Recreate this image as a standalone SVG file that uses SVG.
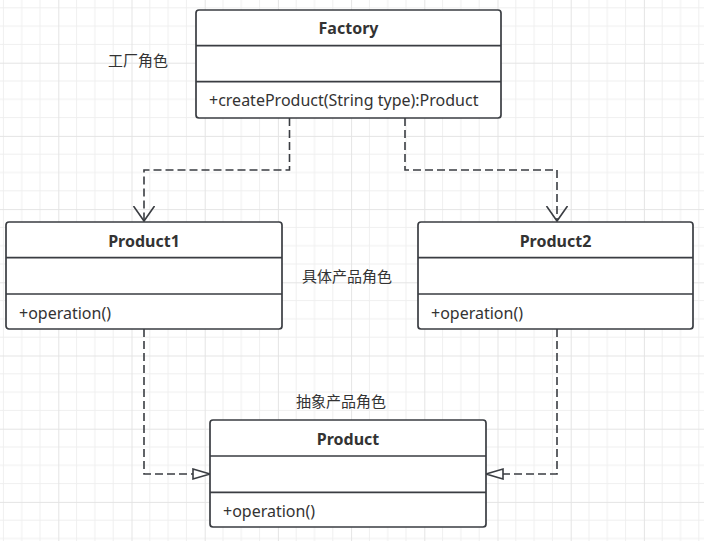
<svg xmlns="http://www.w3.org/2000/svg" width="704" height="541" viewBox="0 0 704 541">
<defs>
<pattern id="grid" patternUnits="userSpaceOnUse" x="58.3" y="62.7" width="73.2" height="73.2">
<path d="M18.3 0V73.2M36.6 0V73.2M54.9 0V73.2M0 18.3H73.2M0 36.6H73.2M0 54.9H73.2" stroke="#efefef" stroke-width="1" fill="none"/>
<path d="M0.5 0V73.2M0 0.5H73.2" stroke="#e4e4e4" stroke-width="1" fill="none"/>
</pattern>
<marker id="open" markerUnits="userSpaceOnUse" markerWidth="24" markerHeight="24" refX="15" refY="10.5" orient="auto" viewBox="0 0 24 24">
<path d="M0 0L15 10.5L0 21" fill="none" stroke="#3a3d42" stroke-width="1.6"/>
</marker>
<marker id="tri" markerUnits="userSpaceOnUse" markerWidth="24" markerHeight="16" refX="18" refY="6" orient="auto" viewBox="0 0 24 16">
<path d="M1 1L18 6L1 11Z" fill="#fff" stroke="#3a3d42" stroke-width="1.6"/>
</marker>
<style>
.box{fill:#fff;stroke:#3a3d42;stroke-width:1.7}
.sep{stroke:#3a3d42;stroke-width:1.7}
.t{font-family:"Noto Sans","Noto Sans CJK SC",sans-serif;font-size:16px;fill:#333}
.b{font-weight:bold;text-anchor:middle}
.cn{font-family:"Noto Sans CJK SC","Noto Sans",sans-serif;font-size:15px;fill:#333}
.c{fill:none;stroke:#3a3d42;stroke-width:1.6;stroke-dasharray:8 4}
</style>
</defs>
<rect width="704" height="541" fill="#fff"/>
<rect width="704" height="541" fill="url(#grid)"/>
<g id="connectors">
<path class="c" d="M289.5 118V170H144V221" marker-end="url(#open)"/>
<path class="c" d="M405 118V170H557V221" marker-end="url(#open)"/>
<path class="c" d="M144 329V474H210" marker-end="url(#tri)"/>
<path class="c" d="M557 329V474H486" marker-end="url(#tri)"/>
</g>
<g id="Factory">
<rect class="box" x="196" y="10" width="305" height="108" rx="3"/>
<path class="sep" d="M196 45.7H501M196 81.7H501"/>
<text class="t b" x="348.5" y="34">Factory</text>
<text class="t" x="209" y="106">+createProduct(String type):Product</text>
</g>
<g id="Product1">
<rect class="box" x="6" y="222" width="276" height="107" rx="3"/>
<path class="sep" d="M6 257.7H282M6 294H282"/>
<text class="t b" x="144" y="246.5">Product1</text>
<text class="t" x="19" y="318.5">+operation()</text>
</g>
<g id="Product2">
<rect class="box" x="418" y="222" width="275" height="107" rx="3"/>
<path class="sep" d="M418 257.7H693M418 294H693"/>
<text class="t b" x="555.5" y="246.5">Product2</text>
<text class="t" x="431" y="318.5">+operation()</text>
</g>
<g id="Product">
<rect class="box" x="210" y="420" width="276" height="107" rx="3"/>
<path class="sep" d="M210 456H486M210 492.3H486"/>
<text class="t b" x="348" y="444.5">Product</text>
<text class="t" x="223" y="516.5">+operation()</text>
</g>
<g id="labels">
<text class="cn" x="108" y="66">工厂角色</text>
<text class="cn" x="302" y="282">具体产品角色</text>
<text class="cn" x="296" y="407">抽象产品角色</text>
</g>
</svg>
